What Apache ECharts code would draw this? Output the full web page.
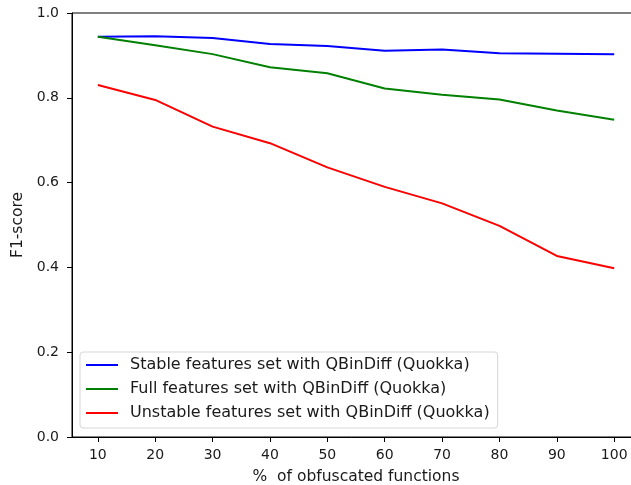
<!DOCTYPE html>
<html>
<head>
<meta charset="utf-8">
<script src="https://cdn.jsdelivr.net/npm/echarts@6/dist/echarts.min.js"></script>
<style>
  html, body { margin: 0; padding: 0; background: #fff; }
  #chart { width: 631px; height: 485px; }
</style>
</head>
<body>
<div id="chart"></div>
<script>
// % of obfuscated functions
const xTicks = [10, 20, 30, 40, 50, 60, 70, 80, 90, 100]
const yTicks = [0, 0.2, 0.4, 0.6, 0.8, 1.0]
const stable = [0.944, 0.945, 0.941, 0.927, 0.922, 0.911, 0.914, 0.905, 0.904, 0.903]
const full = [0.944, 0.924, 0.903, 0.872, 0.858, 0.822, 0.807, 0.796, 0.770, 0.748]
const unstable = [0.830, 0.795, 0.732, 0.693, 0.636, 0.590, 0.551, 0.498, 0.427, 0.398]

const font = 'DejaVu Sans'
const pairs = arr => xTicks.map((x, i) => [x, arr[i]])

const myChart = echarts.init(document.getElementById('chart'))
myChart.setOption({
  animation: false,
  grid: {
    left: 72,
    width: 568, // right spine is cut off in the picture
    top: 13,
    bottom: 48,
    outerBoundsMode: 'none',
    show: true,
    borderColor: '#000',
    borderWidth: 1,
    backgroundColor: 'transparent'
  },
  legend: {
    orient: 'vertical',
    left: 80,
    top: 352,
    icon: 'rect',
    itemWidth: 32,
    itemHeight: 2,
    itemGap: 8,
    padding: [5, 8, 7, 6],
    backgroundColor: '#fff',
    borderColor: '#d6d6d6',
    borderWidth: 1,
    borderRadius: 3,
    textStyle: { fontFamily: font, fontSize: 16, lineHeight: 16, color: '#1a1a1a', padding: [0, 0, 0, 7] },
    data: [
      'Stable features set with QBinDiff (Quokka)',
      'Full features set with QBinDiff (Quokka)',
      'Unstable features set with QBinDiff (Quokka)'
    ]
  },
  xAxis: {
    type: 'value',
    min: 5.5,
    max: 104.5,
    name: '%  of obfuscated functions',
    nameLocation: 'middle',
    nameGap: 32,
    nameTextStyle: { fontFamily: font, fontSize: 15.5, color: '#1a1a1a' },
    axisLine: { show: true, lineStyle: { color: '#000', width: 1 } },
    axisTick: { show: true, inside: false, length: 5, customValues: xTicks, lineStyle: { color: '#000' } },
    axisLabel: { customValues: xTicks, margin: 11, fontFamily: font, fontSize: 14, color: '#1a1a1a' },
    splitLine: { show: false }
  },
  yAxis: {
    type: 'value',
    min: 0,
    max: 1,
    name: 'F1-score',
    nameLocation: 'middle',
    nameGap: 40,
    nameTextStyle: { fontFamily: font, fontSize: 15.5, color: '#1a1a1a' },
    axisLine: { show: true, lineStyle: { color: '#000', width: 1 } },
    axisTick: { show: true, inside: false, length: 5, customValues: yTicks, lineStyle: { color: '#000' } },
    axisLabel: {
      customValues: yTicks,
      margin: 13,
      fontFamily: font,
      fontSize: 14,
      color: '#1a1a1a',
      formatter: v => v.toFixed(1)
    },
    splitLine: { show: false }
  },
  series: [
    {
      name: 'Stable features set with QBinDiff (Quokka)',
      type: 'line',
      data: pairs(stable),
      symbol: 'none',
      lineStyle: { color: '#0000ff', width: 2 },
      itemStyle: { color: '#0000ff' }
    },
    {
      name: 'Full features set with QBinDiff (Quokka)',
      type: 'line',
      data: pairs(full),
      symbol: 'none',
      lineStyle: { color: '#008000', width: 2 },
      itemStyle: { color: '#008000' }
    },
    {
      name: 'Unstable features set with QBinDiff (Quokka)',
      type: 'line',
      data: pairs(unstable),
      symbol: 'none',
      lineStyle: { color: '#ff0000', width: 2 },
      itemStyle: { color: '#ff0000' }
    }
  ]
})
</script>
</body>
</html>
